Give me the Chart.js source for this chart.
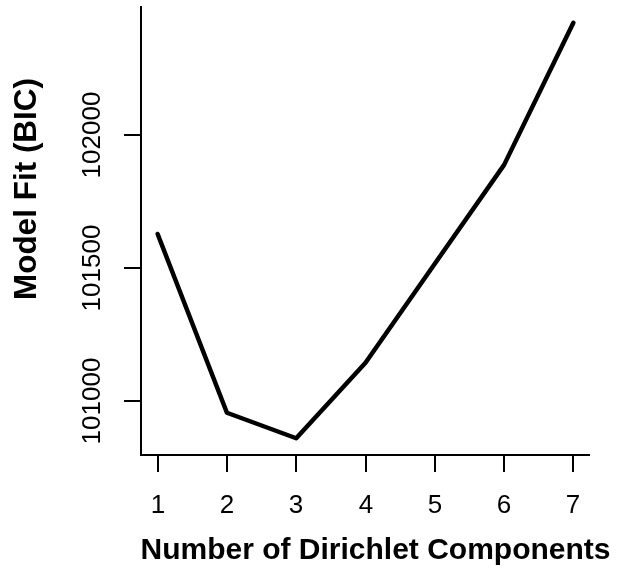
<!DOCTYPE html>
<html>
<head>
<meta charset="utf-8">
<script src="https://cdn.jsdelivr.net/npm/chart.js@4"></script>
<style>
html,body{margin:0;padding:0;background:#fff;}
#wrap{width:629px;height:585px;position:relative;}
</style>
</head>
<body>
<div id="wrap"><canvas id="c" width="629" height="585"></canvas></div>
<script>
const components = [1, 2, 3, 4, 5, 6, 7];
const bicValues = [101628, 100955, 100859, 101143, 101516, 101888, 102423];
const xTicks = [1, 2, 3, 4, 5, 6, 7];
const yTicks = [101000, 101500, 102000];
const xTitle = 'Number of Dirichlet Components';
const yTitle = 'Model Fit (BIC)';

const axesPlugin = {
  id: 'rAxes',
  afterDraw(chart) {
    const ctx = chart.ctx;
    const xs = chart.scales.x, ys = chart.scales.y;
    const a = chart.chartArea;
    ctx.save();
    ctx.strokeStyle = '#000';
    ctx.lineWidth = 2;
    ctx.lineCap = 'butt';
    // L-shaped box
    ctx.beginPath();
    ctx.moveTo(a.left, a.top);
    ctx.lineTo(a.left, a.bottom);
    ctx.lineTo(a.right, a.bottom);
    ctx.stroke();
    // x ticks
    ctx.fillStyle = '#000';
    ctx.font = '26px "Liberation Sans", Arial, sans-serif';
    ctx.textAlign = 'center';
    ctx.textBaseline = 'middle';
    xTicks.forEach(t => {
      const px = Math.round(xs.getPixelForValue(t));
      ctx.beginPath();
      ctx.moveTo(px, a.bottom);
      ctx.lineTo(px, a.bottom + 17);
      ctx.stroke();
      ctx.fillText(String(t), px, 506);
    });
    // y ticks
    yTicks.forEach(t => {
      const py = Math.round(ys.getPixelForValue(t));
      ctx.beginPath();
      ctx.moveTo(a.left, py);
      ctx.lineTo(a.left - 17, py);
      ctx.stroke();
      ctx.save();
      ctx.translate(93, py);
      ctx.rotate(-Math.PI / 2);
      ctx.fillText(String(t), 0, 0);
      ctx.restore();
    });
    // titles
    ctx.font = 'bold 30px "Liberation Sans", Arial, sans-serif';
    ctx.fillText(xTitle, 375.5, 551);
    ctx.font = 'bold 31.5px "Liberation Sans", Arial, sans-serif';
    ctx.save();
    ctx.translate(27, 189);
    ctx.rotate(-Math.PI / 2);
    ctx.fillText(yTitle, 0, 0);
    ctx.restore();
    ctx.restore();
  }
};

new Chart(document.getElementById('c'), {
  type: 'line',
  data: {
    datasets: [{
      data: components.map((c, i) => ({x: c, y: bicValues[i]})),
      borderColor: '#000',
      borderWidth: 4.5,
      pointRadius: 0,
      tension: 0,
      fill: false,
      borderCapStyle: 'round',
      borderJoinStyle: 'round'
    }]
  },
  options: {
    responsive: false,
    animation: false,
    layout: {padding: {left: 141, right: 39, top: 6, bottom: 130}},
    plugins: {legend: {display: false}, tooltip: {enabled: false}},
    scales: {
      x: {type: 'linear', min: 0.76, max: 7.24, display: false},
      y: {type: 'linear', min: 100796, max: 102486, display: false}
    }
  },
  plugins: [axesPlugin]
});
</script>
</body>
</html>
